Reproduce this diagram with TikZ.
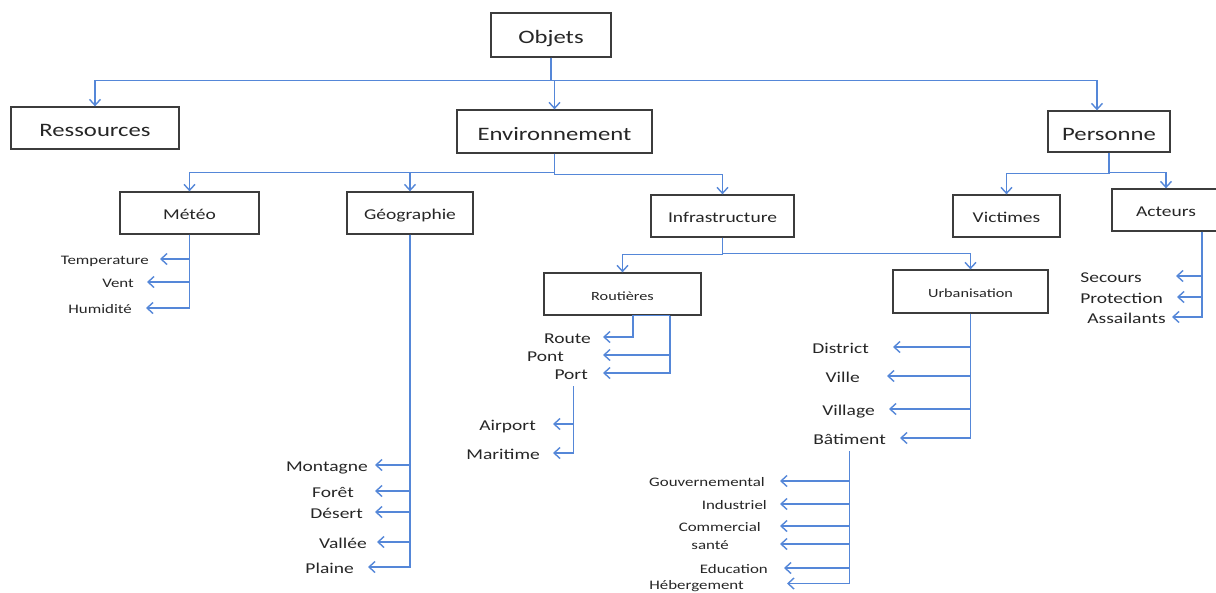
\documentclass[tikz,border=0pt]{standalone}
\usepackage{fontspec}
\setmainfont{Carlito}[FakeStretch=1.3]
\tikzset{font={\fontsize{15pt}{18}\selectfont}}
\usetikzlibrary{
	calc,
	arrows.meta
	}
\definecolor{bleu}{HTML}{5587D8}
\definecolor{gris}{HTML}{3C3C3C}
\tikzstyle{boite}=[draw=gris,line width=1.3pt,inner sep=0pt,minimum height=42pt,text height=16.6pt,text depth=3pt,text=black!85]
\tikzstyle{boite-grande}=[boite,font={\fontsize{19pt}{23}\selectfont},text height=21.2pt,text depth=4pt]
\tikzstyle{boite-petite}=[boite,font={\fontsize{12.5pt}{15}\selectfont},text height=14.9pt,text depth=2.5pt]
\tikzstyle{feuille}=[inner sep=0pt,anchor=east,text height=16pt,text depth=2.5pt,text=black!85]
\tikzstyle{feuille-petite}=[feuille,font={\fontsize{13pt}{16}\selectfont},text height=14pt,text depth=2.3pt]
\tikzstyle{lien}=[draw=bleu,line width=1.4pt]
\tikzstyle{fleche}=[lien,-{Straight Barb[length=6pt,width=11pt]}]
\tikzstyle{fleche-feuille}=[fleche,shorten >=12pt]

\begin{document}
\begin{tikzpicture}[x=1pt,y=-1pt]
        \useasboundingbox (0,0) rectangle (1216,592);
        % 0
        \node[boite-grande, minimum width=120pt, minimum height=44pt] (objets) at (551,35) {Objets};
        % 1
        \node[boite-grande, minimum width=168pt] (ress) at (95,128) {Ressources};
        \node[boite-grande, minimum width=195pt, minimum height=43pt] (env) at (554.5,131.5) {Environnement};
        \node[boite-grande, minimum width=122pt, minimum height=41pt] (pers) at (1109,131.5) {Personne};
        % 2
        \node[boite, minimum width=139pt] (meteo) at (189.5,213) {Météo};
        \node[boite, minimum width=126pt] (geo) at (410,213) {Géographie};
        \node[boite, minimum width=143pt] (infra) at (722.5,216) {Infrastructure};
        \node[boite, minimum width=107pt] (vict) at (1006.5,216) {Victimes};
        \node[boite, minimum width=108pt] (act) at (1166,210) {Acteurs};
        % 3
        \node[boite-petite, minimum width=157pt] (rout) at (622.5,294) {Routières};
        \node[boite-petite, minimum width=155pt, minimum height=43pt] (urb) at (970.5,291.5) {Urbanisation};
        %
        \draw[fleche] (objets.south) -- ++(0,23) -| (ress.north);
        \draw[fleche] (objets.south) -- ++(0,23) -| (env.north);
        \draw[fleche] (objets.south) -- ++(0,23) -| ([xshift=-12pt]pers.north);

        \draw[fleche] (env.south) -- ++(0,19) -| (meteo.north);
        \draw[fleche] (env.south) -- ++(0,19) -| (geo.north);
        \draw[fleche] (env.south) -- ++(0,21) -| (infra.north);

        \draw[fleche] (infra.south) -- ++(0,17) -| (rout.north);
        \draw[fleche] (infra.south) -- ++(0,16) -| (urb.north);

        \draw[fleche] (pers.south) -- ++(0,21) -| (vict.north);
        \draw[fleche] (pers.south) -- ++(0,20) -| (act.north);

        % Météo
        \node[feuille-petite] (temp) at (149,259) {Temperature};
        \node[feuille-petite] (vent) at (134,282) {Vent};
        \node[feuille-petite] (humid) at (132,308) {Humidité};
        \draw[fleche-feuille, shorten >=11pt] (meteo.south) |- (temp.east);
        \draw[fleche-feuille, shorten >=13pt] (meteo.south) |- (vent.east);
        \draw[fleche-feuille, shorten >=14pt] (meteo.south) |- (humid.east);

        % Géographie
        \node[feuille] (montagne) at (368,465) {Montagne};
        \node[feuille] (foret) at (354,491) {Forêt};
        \node[feuille] (desert) at (363,512) {Désert};
        \node[feuille] (vallee) at (367,542) {Vallée};
        \node[feuille] (plaine) at (354,567) {Plaine};
        \draw[fleche-feuille, shorten >=7pt] (geo.south) |- (montagne.east);
        \draw[fleche-feuille, shorten >=21pt] (geo.south) |- (foret.east);
        \draw[fleche-feuille, shorten >=12pt] (geo.south) |- (desert.east);
        \draw[fleche-feuille, shorten >=10pt] (geo.south) |- (vallee.east);
        \draw[fleche-feuille, shorten >=14pt] (geo.south) |- (plaine.east);

        % Routières
        \node[feuille] (route) at (591,337) {Route};
        \node[feuille] (pont) at (564,355) {Pont};
        \node[feuille] (port) at (588,373) {Port};
        \node[feuille] (airport) at (536,424) {Airport};
        \node[feuille] (maritime) at (540,453) {Maritime};
        \draw[fleche-feuille] ([xshift=47.5pt]rout.south) -- ([xshift=10.5pt]rout.south) |- (route.east);
        \draw[fleche-feuille, shorten >=39pt] ([xshift=47.5pt]rout.south) |- (pont.east);
        \draw[fleche-feuille, shorten >=15pt] ([xshift=47.5pt]rout.south) |- (port.east);
        \draw[fleche-feuille, shorten >=17pt] ([xshift=2.5pt,yshift=-4pt]port.south) |- (airport.east);
        \draw[fleche-feuille, shorten >=13pt] ([xshift=2.5pt,yshift=-4pt]port.south) |- (maritime.east);

        % Urbanisation
        \node[feuille] (district) at (869,347) {District};
        \node[feuille] (ville) at (860,376) {Ville};
        \node[feuille] (village) at (875,409) {Village};
        \node[feuille] (bat) at (886,438) {Bâtiment};
        \draw[fleche-feuille, shorten >=24pt] (urb.south) |- (district.east);
        \draw[fleche-feuille, shorten >=27pt] (urb.south) |- (ville.east);
        \draw[fleche-feuille, shorten >=14pt] (urb.south) |- (village.east);
        \draw[fleche-feuille, shorten >=14pt] (urb.south) |- (bat.east);

        % Bâtiment
        \node[feuille-petite] (gouv) at (765,481) {Gouvernemental};
        \node[feuille-petite] (indus) at (767,504) {Industriel};
        \node[feuille-petite] (comm) at (761,526) {Commercial};
        \node[feuille-petite] (sante) at (729,544) {santé};
        \node[feuille-petite] (educ) at (768,568) {Education};
        \node[feuille-petite] (heberg) at (744,583.5) {Hébergement};
        \draw[fleche-feuille, shorten >=15pt] ([yshift=-4pt]bat.south) |- (gouv.east);
        \draw[fleche-feuille, shorten >=13pt] ([yshift=-4pt]bat.south) |- (indus.east);
        \draw[fleche-feuille, shorten >=19pt] ([yshift=-4pt]bat.south) |- (comm.east);
        \draw[fleche-feuille, shorten >=51pt] ([yshift=-4pt]bat.south) |- (sante.east);
        \draw[fleche-feuille, shorten >=16pt] ([yshift=-4pt]bat.south) |- (educ.east);
        \draw[fleche-feuille, shorten >=43pt] ([yshift=-4pt]bat.south) |- (heberg.east);

        % Acteurs
        \node[feuille] (secours) at (1142,276) {Secours};
        \node[feuille] (protection) at (1163,297) {Protection};
        \node[feuille] (assail) at (1166,317) {Assailants};
        \draw[fleche-feuille, shorten >=34pt] ([xshift=36pt]act.south) |- (secours.east);
        \draw[fleche-feuille, shorten >=14pt] ([xshift=36pt]act.south) |- (protection.east);
        \draw[fleche-feuille, shorten >=6pt] ([xshift=36pt]act.south) |- (assail.east);
    \end{tikzpicture}
\end{document}
